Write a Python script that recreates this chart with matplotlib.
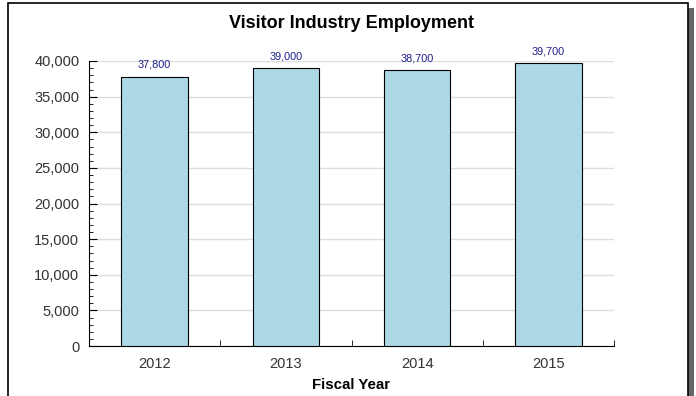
# %%
import matplotlib.pyplot as plt
from matplotlib.patches import Rectangle
from matplotlib.ticker import FuncFormatter, MultipleLocator

# %%
years = ["2012", "2013", "2014", "2015"]
employment = [37800, 39000, 38700, 39700]

# %% plot employment
fig = plt.figure(figsize=(6.96, 3.96), dpi=100)
plt.rcParams["font.family"] = ["Liberation Sans", "DejaVu Sans"]

# outer frame with shadow
fig.patches.append(Rectangle((688 / 696, -0.1), 6 / 696, 1.1 - 8 / 396,
                             transform=fig.transFigure, facecolor="#666666",
                             edgecolor="none", zorder=0))
fig.patches.append(Rectangle((8 / 696, -0.1), 680 / 696, 1.1 - 3 / 396,
                             transform=fig.transFigure, facecolor="white",
                             edgecolor="black", linewidth=1.2, zorder=1))

ax = fig.add_axes([89 / 696, 1 - 346 / 396, 525 / 696, 285 / 396])
ax.set_zorder(2)
ax.patch.set_alpha(0)

x = range(len(years))
bars = ax.bar(x, employment, width=0.505, color="#add8e6",
              edgecolor="black", linewidth=0.8, zorder=3)
for xi, v in zip(x, employment):
    ax.annotate(f"{v:,}", (xi, v), xytext=(0, 5), textcoords="offset points",
                ha="center", va="bottom", fontsize=7.8, color="#1e1e8c")

ax.set_xlim(-0.5, len(years) - 0.5)
ax.set_ylim(0, 40000)
ax.yaxis.set_major_locator(MultipleLocator(5000))
ax.yaxis.set_minor_locator(MultipleLocator(1000))
ax.yaxis.set_major_formatter(FuncFormatter(lambda v, p: f"{v:,.0f}"))
ax.grid(axis="y", color="#dddddd", linewidth=1, zorder=0)

ax.set_xticks(list(x))
ax.set_xticklabels(years)
ax.set_xticks([i + 0.5 for i in x], minor=True)
ax.tick_params(axis="x", which="major", length=0, pad=8, labelsize=10.5,
               labelcolor="#333333")
ax.tick_params(axis="x", which="minor", direction="in", length=4)
ax.tick_params(axis="y", which="major", direction="in", length=6, pad=7,
               labelsize=10.5, labelcolor="#333333")
ax.tick_params(axis="y", which="minor", direction="in", length=3)

ax.spines[["top", "right"]].set_visible(False)
ax.set_xlabel("Fiscal Year", fontsize=10.8, fontweight="bold", labelpad=5)
ax.set_title("Visitor Industry Employment", fontsize=13, fontweight="bold",
             pad=24)

fig.savefig("out.png", dpi=100)
